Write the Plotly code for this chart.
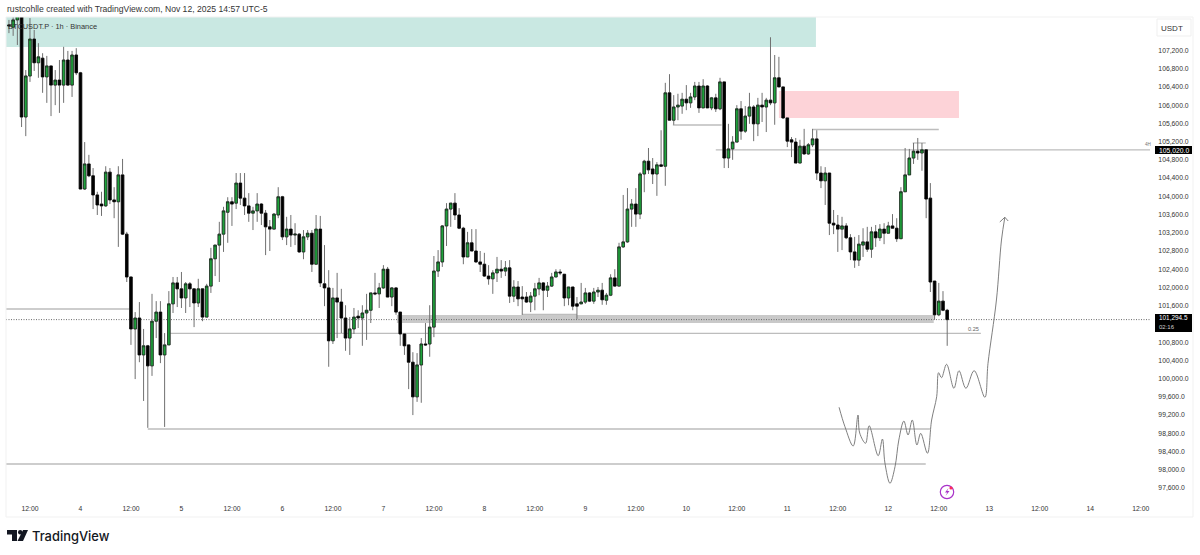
import pandas as pd
import plotly.graph_objects as go

# Hourly BTCUSDT.P candles, Nov 3 07:00 through Nov 12 14:00
first_bar = "2025-11-03 07:00"

opens = [
    107760, 107710, 107870, 108040, 105740, 106640, 107450, 106930, 107030, 106620, 106860, 106440,
    106550, 106440, 106990, 106440, 107100,
    106710, 104160, 104710, 104450, 104030, 103830, 103790, 104530, 103920, 103880, 104470, 103170,
    102230, 101090, 101330, 100520, 100720, 100280, 101260, 101460, 100520, 100740, 101640, 102100,
    101970, 101770, 102080, 101970, 101660, 101970, 101350, 102030, 102630, 102930, 103170, 103650,
    103880, 103850, 104290, 103960, 103790, 103630, 103680, 103830, 103630, 103330, 103280, 103590,
    103990, 103110, 103280, 103150, 103170, 102780, 103110, 103190, 102510, 103280, 102080, 101990,
    100830, 101770, 101680, 101330, 100890, 101090, 101370, 101330, 101440, 101500, 101880, 101860,
    101990, 102400, 101790, 101990, 101460, 100980, 100740, 100360, 99600, 100300, 100760, 100760,
    101130, 102360, 102560, 103350, 103720, 103850, 103590, 103300, 102670, 102980, 102800, 102560,
    102510, 102250, 102190, 102320, 102400, 102360, 102430, 101810, 102010, 101790, 101790, 101680,
    101810, 101970, 102100, 101940, 102030, 102230, 102340, 102290, 101770, 102010, 101640, 101640,
    101680, 101880, 101700, 101900, 101940, 101720, 101830, 102210, 102030, 102890, 103000, 103720,
    103830, 103610, 104490, 104770, 104600, 104490, 104690, 104660, 106270, 105670, 105960, 105980,
    106130, 106050, 106180, 106420, 105940, 106420, 105940, 106160, 105920, 106510, 104840, 105040,
    105190, 105920, 105430, 105760, 105960, 105590, 106000, 105960, 106110, 106050, 106600, 106400,
    105720, 105240, 105190, 104730, 105100, 104930, 105130, 105260, 104510, 104340, 104510, 103410,
    103370, 103280, 103350, 103090, 102780, 102600, 102930, 103000, 102840, 103220, 103090, 103280,
    103190, 103350, 103300, 103070, 104100, 104470, 104840, 104990, 104950, 105020, 103960, 102140,
    101400, 101700, 101500,
]
highs = [
    107870, 107930, 108130, 108130, 106770, 107910, 107650, 107360, 107140, 107080, 106860, 106770,
    106990, 107280, 107190, 107190, 107250,
    106730, 105190, 104910, 104620, 104100, 104100, 104660, 104620, 104200, 104660, 104820, 103220,
    102230, 101460, 101680, 101090, 100740, 101860, 101700, 101700, 101000, 101920, 102230, 102230,
    102340, 102120, 102120, 101970, 102190, 101970, 102080, 102870, 102930, 103440, 103770, 103980,
    103980, 104510, 104510, 104510, 104070, 103770, 104070, 103850, 103700, 103480, 103630, 104200,
    104010, 103550, 103590, 103410, 103190, 103260, 103260, 103260, 103590, 103570, 102930, 102380,
    101990, 102320, 101970, 101610, 101350, 101550, 101500, 101610, 101860, 101880, 102320, 102100,
    102490, 102450, 102010, 102010, 101460, 100980, 100740, 100580, 100560, 100890, 101220, 101610,
    102690, 102820, 103370, 103850, 103850, 104070, 103740, 103330, 103220, 103280, 103280, 102800,
    102760, 102490, 102380, 102670, 102600, 102580, 102600, 102160, 102140, 102030, 101900, 101900,
    102100, 102210, 102120, 102120, 102320, 102400, 102400, 102290, 102010, 102010, 101790, 102100,
    101990, 101900, 101990, 102010, 102100, 101880, 102290, 102400, 102980, 104030, 104180, 103940,
    104180, 104530, 104800, 105060, 104840, 104750, 105450, 106490, 106680, 106220, 106250, 106270,
    106440, 106270, 106510, 106510, 106570, 106440, 106180, 106250, 106600, 106510, 105590, 105320,
    106000, 106090, 105980, 106270, 106000, 106160, 106270, 106160, 107490, 107100, 107060, 106400,
    105720, 105300, 105280, 105240, 105480, 105170, 105480, 105450, 104660, 104640, 104510, 103700,
    103590, 103550, 103410, 103170, 103110, 103150, 103300, 103330, 103330, 103370, 103390, 103410,
    103440, 103610, 103520, 104200, 105060, 105040, 105170, 105280, 105170, 105020, 104290, 102140,
    102100, 101920, 101530,
]
lows = [
    107580, 107520, 107320, 105520, 105320, 106510, 106750, 106600, 106270, 106050, 105760, 106000,
    105830, 106050, 106420, 106180, 106660,
    104160, 104140, 104420, 103720, 103590, 103570, 103770, 103830, 103520, 102890, 103150, 102120,
    100740, 99990, 100360, 99510, 98920, 100060, 100890, 100340, 98940, 100740, 101440, 101570,
    101550, 101440, 101570, 101130, 101570, 101260, 101350, 101880, 102250, 102120, 102780, 102980,
    103350, 103720, 103810, 103590, 103440, 103260, 103440, 103370, 102710, 102800, 103280, 103520,
    103040, 102930, 102890, 102930, 102760, 102620, 103040, 102340, 102510, 102010, 101590, 100260,
    100760, 100890, 101000, 100610, 100520, 100980, 101110, 100720, 100850, 101220, 101830, 101550,
    101970, 101790, 101590, 101400, 100720, 100520, 99770, 99200, 99490, 99470, 100720, 100480,
    100910, 102230, 102450, 102910, 103330, 103480, 103280, 102510, 102670, 102800, 102540, 102340,
    102230, 102060, 101860, 102120, 102210, 102250, 101660, 101680, 101590, 101400, 101660, 101460,
    101500, 101830, 101500, 101790, 102010, 102230, 102270, 101590, 101610, 101500, 101310, 101640,
    101640, 101680, 101640, 101790, 101620, 101620, 101810, 102010, 102030, 102870, 102980, 103330,
    103330, 103500, 104090, 104490, 104270, 104010, 104660, 104230, 105670, 105570, 105670, 105810,
    105890, 105940, 106110, 105830, 105940, 105940, 105890, 105850, 105890, 104620, 104620, 104800,
    105190, 105240, 105390, 105590, 105210, 105320, 105630, 105410, 106000, 105570, 106400, 105700,
    105080, 104860, 104730, 104730, 104910, 104910, 105080, 104360, 104180, 103810, 103150, 103170,
    102780, 102820, 103060, 102600, 102430, 102470, 102670, 102780, 102650, 102890, 103020, 102950,
    103190, 103300, 103000, 103070, 104100, 104470, 104710, 104800, 104560, 103520, 101900, 101290,
    101370, 101480, 100720,
]
closes = [
    107740, 107870, 108040, 105740, 106640, 107450, 106930, 107060, 106620, 106860, 106440, 106550,
    106440, 106990, 106440, 107100, 106710,
    104160, 104710, 104450, 104030, 103810, 103790, 104530, 103920, 103880, 104470, 103170, 102230,
    101090, 101330, 100520, 100720, 100280, 101260, 101460, 100520, 100740, 101640, 102100, 101970,
    101770, 102080, 101970, 101660, 101970, 101350, 102030, 102630, 102930, 103170, 103680, 103880,
    103830, 104290, 103960, 103790, 103630, 103680, 103830, 103630, 103330, 103280, 103610, 103990,
    103110, 103280, 103150, 103170, 102780, 103110, 103190, 102510, 103280, 102100, 101990, 100830,
    101770, 101680, 101330, 100890, 101090, 101350, 101330, 101440, 101500, 101880, 101860, 101990,
    102400, 101790, 101990, 101460, 100980, 100720, 100360, 99600, 100300, 100760, 100740, 101130,
    102360, 102560, 103350, 103720, 103850, 103590, 103300, 102670, 102980, 102800, 102560, 102510,
    102250, 102190, 102320, 102400, 102360, 102430, 101810, 102010, 101750, 101750, 101680, 101810,
    101970, 102100, 101940, 102030, 102230, 102340, 102320, 101770, 102010, 101590, 101590, 101680,
    101880, 101700, 101900, 101940, 101730, 101830, 102210, 102030, 102890, 103000, 103720, 103830,
    103610, 104490, 104770, 104580, 104490, 104690, 104660, 106270, 105670, 105960, 106000, 106130,
    106050, 106180, 106420, 105940, 106420, 105940, 106160, 105920, 106510, 104840, 105040, 105190,
    105920, 105430, 105760, 105960, 105590, 106000, 105960, 106110, 106050, 106600, 106400, 105720,
    105210, 105190, 104730, 105100, 104930, 105130, 105260, 104510, 104340, 104510, 103410, 103370,
    103280, 103350, 103090, 102780, 102600, 102950, 103000, 102840, 103220, 103090, 103280, 103190,
    103350, 103300, 103070, 104100, 104470, 104840, 104990, 104950, 105020, 103940, 102120, 101400,
    101700, 101500, 101294.5,
]

# Day / half-day ticks on the time axis
tick_hours = [-12, 0, 12, 24, 36, 48, 60, 72, 84, 96, 108, 120, 132, 144, 156, 168, 180, 192, 204, 216, 228, 240, 252]
tick_labels = ["12:00", "4", "12:00", "5", "12:00", "6", "12:00", "7", "12:00", "8", "12:00", "9",
               "12:00", "10", "12:00", "11", "12:00", "12", "12:00", "13", "12:00", "14", "12:00"]
price_ticks = [97600, 98000, 98400, 98800, 99200, 99600, 100000, 100400, 100800, 101600, 102000,
               102400, 102800, 103200, 103600, 104000, 104400, 104800, 105200, 105600, 106000, 106400, 106800, 107200]

# Drawn support / resistance levels: price, start hour, end hour (hours from Nov 4 00:00)
level_prices = [101528, 100992, 98895, 98127, 105020, 105466, 105565, 101409, 105170]
level_starts = [-17.7, 21.0, 16.0, -17.7, 151.0, 174.0, 140.8, 104.9, 197.8]
level_ends = [11.8, 214.0, 201.9, 200.9, 254.2, 204.0, 152.4, 118.0, 200.9]

last_price = 101294.5
tag_price = 105020

# Hand-drawn projected path after the last candle
path_hours = [180.3, 181.7, 183.65, 184.8, 185.2, 186.6, 187.45, 189.6, 190.6, 191.2, 192.4, 193.6, 194.5, 195.7,
              196.7, 197.7, 198.8, 199.7, 201.3, 202.3, 203.5, 203.95, 204.65, 205.85, 207.6, 208.8, 210.45,
              212.4, 214.95, 215.7, 217.7, 218.9, 219.7]
path_prices = [99371, 98945, 98522, 99202, 98807, 98581, 98967, 98309, 98675, 98149, 97703, 98068, 98653, 99070,
               98763, 99092, 98544, 98800, 98362, 99092, 99603, 100130, 100020, 100314, 99788, 100174, 99788,
               100174, 99590, 100336, 101725, 103041, 103540]
arrow_hours = [218.5, 219.7, 220.5]
arrow_prices = [103436, 103540, 103458]

INK = "#131722"
GREEN = "#1fa33c"
WICK = "#707070"
LEVEL = "#bdbdbd"
SKETCH = "#707070"

CANVAS_W, CANVAS_H = 1200, 555
LEFT, RIGHT, TOP, BOTTOM = 6, 1150, 17, 500


def when(hour):
    return (pd.Timestamp("2025-11-04") + pd.Timedelta(hours=hour)).strftime("%Y-%m-%d %H:%M:%S")


def paper_x(px):
    return (px - LEFT) / (RIGHT - LEFT)


def paper_y(py):
    return (BOTTOM - py) / (BOTTOM - TOP)


bar_times = pd.date_range(first_bar, periods=len(opens), freq="h").strftime("%Y-%m-%d %H:%M:%S").tolist()
body_tops = [max(o, c) for o, c in zip(opens, closes)]
body_bottoms = [min(o, c) for o, c in zip(opens, closes)]

fig = go.Figure()

# Wicks and bodies are separate traces so the wick can be lighter than the body outline
fig.add_trace(go.Candlestick(
    x=bar_times, open=opens, high=highs, low=lows, close=closes, whiskerwidth=0, hoverinfo="skip",
    increasing=dict(line=dict(color=WICK, width=1), fillcolor="rgba(0,0,0,0)"),
    decreasing=dict(line=dict(color=WICK, width=1), fillcolor="rgba(0,0,0,0)"),
    showlegend=False,
))
fig.add_trace(go.Candlestick(
    x=bar_times, open=opens, high=body_tops, low=body_bottoms, close=closes, whiskerwidth=0, hoverinfo="skip",
    increasing=dict(line=dict(color="#101010", width=0.6), fillcolor=GREEN),
    decreasing=dict(line=dict(color="#000000", width=0.6), fillcolor="#000000"),
    showlegend=False,
))
fig.add_trace(go.Scatter(
    x=[when(h) for h in path_hours], y=path_prices, mode="lines",
    line=dict(color=SKETCH, width=0.9, shape="spline", smoothing=1.0), hoverinfo="skip", showlegend=False,
))
fig.add_trace(go.Scatter(
    x=[when(h) for h in arrow_hours], y=arrow_prices, mode="lines",
    line=dict(color=SKETCH, width=0.9), hoverinfo="skip", showlegend=False,
))

shapes = [
    # Supply / demand zones
    dict(type="rect", layer="below", x0=when(-17.7), x1=when(174.8), y0=107276, y1=108200,
         fillcolor="#c9e8e2", line_width=0),
    dict(type="rect", layer="below", x0=when(166.0), x1=when(208.8), y0=105718, y1=106310,
         fillcolor="#fdd3d8", line_width=0),
    dict(type="rect", layer="below", x0=when(75.2), x1=when(202.8), y0=101220, y1=101396,
         fillcolor="#c9c9c9", line_width=0),
    # Last-price line
    dict(type="line", layer="below", x0=when(-17.7), x1=when(254.2), y0=last_price, y1=last_price,
         line=dict(color="#6a6a6a", width=1, dash="1px,1.5px")),
    # Outer frame
    dict(type="rect", xref="paper", yref="paper", x0=paper_x(6), x1=paper_x(1193), y0=paper_y(517), y1=paper_y(17),
         line=dict(color="#f1f1f1", width=1), fillcolor="rgba(0,0,0,0)"),
    # Price tags on the scale
    dict(type="rect", xref="paper", yref="paper", x0=paper_x(1155), x1=paper_x(1192), y0=paper_y(154), y1=paper_y(146),
         fillcolor="#000000", line_width=0),
    dict(type="rect", xref="paper", yref="paper", x0=paper_x(1155), x1=paper_x(1192), y0=paper_y(332), y1=paper_y(314),
         fillcolor="#000000", line_width=0),
    # Currency button
    dict(type="rect", xref="paper", yref="paper", x0=paper_x(1157), x1=paper_x(1191), y0=paper_y(36), y1=paper_y(19),
         line=dict(color="#efefef", width=1), fillcolor="#ffffff"),
    # Bolt badge below the last candle
    dict(type="circle", xref="paper", yref="paper", x0=paper_x(940.3), x1=paper_x(953.7), y0=paper_y(498.7),
         y1=paper_y(485.3), line=dict(color="#a933c9", width=1.2), fillcolor="#ffffff"),
    dict(type="path", xref="paper", yref="paper", fillcolor="#a933c9", line_width=0,
         path="M {} {} L {} {} L {} {} L {} {} L {} {} L {} {} Z".format(
             paper_x(948.5), paper_y(488), paper_x(945), paper_y(492.5), paper_x(947.3), paper_y(492.5),
             paper_x(945.5), paper_y(496), paper_x(949.5), paper_y(491), paper_x(947.2), paper_y(491))),
    dict(type="circle", xref="paper", yref="paper", x0=paper_x(949.4), x1=paper_x(952.6), y0=paper_y(489.6),
         y1=paper_y(486.4), fillcolor="#ff2d55", line_width=0),
    # Brand mark
    dict(type="path", xref="paper", yref="paper", fillcolor=INK, line_width=0,
         path="M {} {} L {} {} L {} {} L {} {} L {} {} L {} {} Z".format(
             paper_x(7), paper_y(530), paper_x(17), paper_y(530), paper_x(17), paper_y(541),
             paper_x(12), paper_y(541), paper_x(12), paper_y(534.5), paper_x(7), paper_y(534.5))),
    dict(type="circle", xref="paper", yref="paper", x0=paper_x(18), x1=paper_x(22.4), y0=paper_y(534.4),
         y1=paper_y(530), fillcolor=INK, line_width=0),
    dict(type="path", xref="paper", yref="paper", fillcolor=INK, line_width=0,
         path="M {} {} L {} {} L {} {} L {} {} Z".format(
             paper_x(23), paper_y(530), paper_x(28), paper_y(530), paper_x(23), paper_y(541), paper_x(17.5), paper_y(541))),
]
for price, start, end in zip(level_prices, level_starts, level_ends):
    shapes.append(dict(type="line", layer="below", x0=when(start), x1=when(end), y0=price, y1=price,
                       line=dict(color=LEVEL, width=1.3)))


def note(px, py, text, size, color=INK, anchor="left", family="Liberation Sans", weight=None):
    font = dict(size=size, color=color, family=family)
    if weight:
        font["weight"] = weight
    return dict(xref="paper", yref="paper", x=paper_x(px), y=paper_y(py), text=text, showarrow=False,
                xanchor=anchor, yanchor="middle", font=font, borderpad=0)


annotations = [
    note(6, 9, "rustcohlle created with TradingView.com, Nov 12, 2025 14:57 UTC-5", 8.6, "#333333"),
    note(7, 26.5, "BTCUSDT.P · 1h · Binance", 7.4, "#333333"),
    note(1172, 28, "USDT", 8, "#333333", anchor="center"),
    note(1173.5, 150, f"{tag_price:,.1f}", 6.8, "#ffffff", anchor="center"),
    note(1173.5, 317.8, f"{last_price:,.1f}", 6.4, "#ffffff", anchor="center"),
    note(1167, 327, "02:16", 6.0, "#d0d0d0", anchor="center"),
    note(973.5, 328.5, "0.25", 5.6, "#666666", anchor="center"),
    note(1147.5, 144.5, "4H", 4.6, "#777777", anchor="center"),
    note(30.5, 536, "TradingView", 12.9, INK, family="Inter", weight=500),
]

fig.update_layout(
    width=CANVAS_W, height=CANVAS_H, autosize=False,
    margin=dict(l=LEFT, r=CANVAS_W - RIGHT, t=TOP, b=CANVAS_H - BOTTOM, pad=0),
    paper_bgcolor="#ffffff", plot_bgcolor="#ffffff",
    showlegend=False, shapes=shapes, annotations=annotations,
    boxgap=0.22, boxgroupgap=0.22,
    xaxis=dict(
        type="date", range=[when(-17.7), when(254.2)], rangeslider=dict(visible=False),
        tickmode="array", tickvals=[when(h) for h in tick_hours], ticktext=tick_labels,
        ticks="outside", ticklen=2, tickcolor="rgba(0,0,0,0)",
        showgrid=False, zeroline=False, showline=False,
        tickfont=dict(family="Liberation Sans", size=6.8, color="#333333"),
    ),
    yaxis=dict(
        side="right", range=[97337, 107934], fixedrange=True,
        tickmode="array", tickvals=price_ticks, ticktext=[f"{v:,}.0" for v in price_ticks],
        ticks="outside", ticklen=6, tickcolor="rgba(0,0,0,0)",
        showgrid=False, zeroline=False, showline=False,
        tickfont=dict(family="Liberation Sans", size=6.8, color="#333333"),
    ),
)

assert len(opens) == len(highs) == len(lows) == len(closes)
fig.write_html("out.html", config={"displayModeBar": False})
